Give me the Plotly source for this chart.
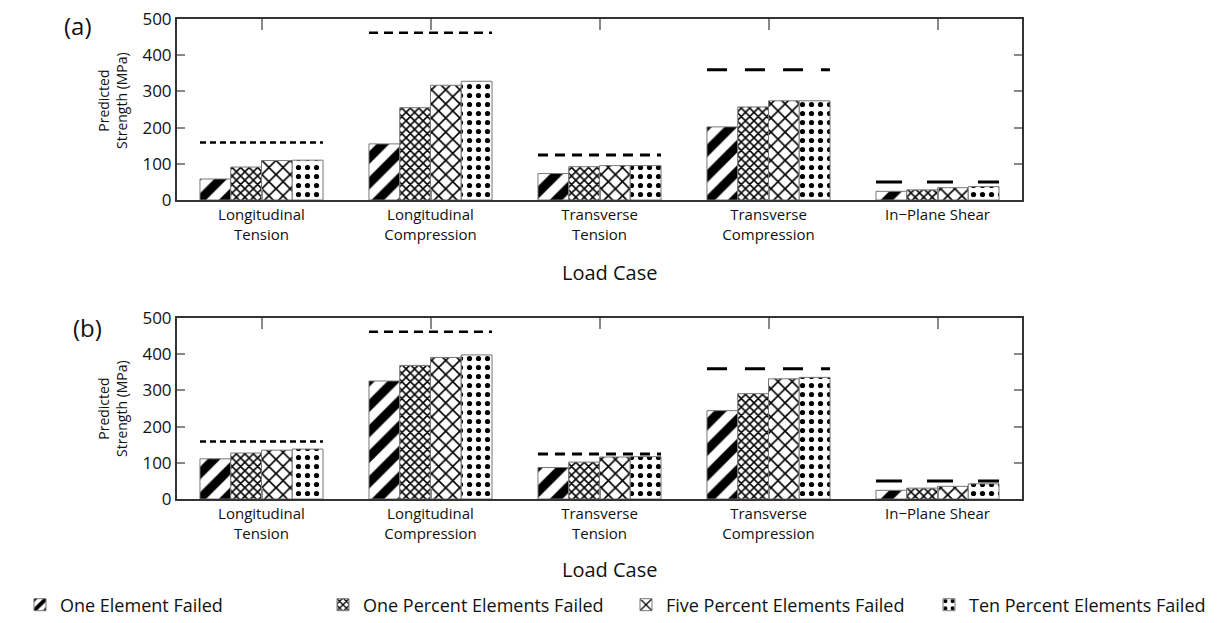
import plotly.graph_objects as go

# ---------------- data ----------------
categories = ["Longitudinal<br>Tension", "Longitudinal<br>Compression",
              "Transverse<br>Tension", "Transverse<br>Compression",
              "In\u2212Plane Shear"]
series_names = ["One Element Failed", "One Percent Elements Failed",
                "Five Percent Elements Failed", "Ten Percent Elements Failed"]

# panel (a)
a_one_element = [58, 155, 73, 202, 24]
a_one_percent = [91, 255, 92, 257, 28]
a_five_percent = [109, 317, 95, 274, 34]
a_ten_percent = [110, 328, 95, 274, 37]

# panel (b)
b_one_element = [111, 326, 87, 244, 24]
b_one_percent = [127, 369, 102, 291, 30]
b_five_percent = [135, 391, 116, 332, 35]
b_ten_percent = [138, 398, 117, 336, 42]

# experimental strength (dashed reference lines)
experimental = [159, 462, 124, 360, 50]

y_ticks = [0, 100, 200, 300, 400, 500]

# ---------------- styles ----------------
W, H = 1229, 623
OFF = 8  # page body margin


def px_x(px):
    return (px - OFF) / W


def px_y(py):
    return 1 - (py - OFF) / H


FONT = "Open Sans"
TXT = "#111111"
patterns = [
    dict(shape="/", size=18, solidity=0.5),
    dict(shape="x", size=6, solidity=0.45),
    dict(shape="x", size=10, solidity=0.3),
    dict(shape=".", size=9, solidity=0.26),
]
dash_styles = ["6px,4px", "9px,6px", "10px,7px", "20px,18px", "26px,25px"]
dash_widths = [2.5, 2.5, 3, 3, 3]
BARGAP = 0.272

fig = go.Figure()
xpos = list(range(len(categories)))

panels = [
    ("x", "y", [a_one_element, a_one_percent, a_five_percent, a_ten_percent], True),
    ("x2", "y2", [b_one_element, b_one_percent, b_five_percent, b_ten_percent], False),
]
for xa, ya, series, show in panels:
    for name, vals, pat in zip(series_names, series, patterns):
        fig.add_trace(go.Bar(
            x=xpos, y=vals, name=name, legendgroup=name, showlegend=show,
            xaxis=xa, yaxis=ya,
            marker=dict(color="white",
                        line=dict(color="#777777", width=1),
                        pattern=dict(fgcolor="black", bgcolor="white",
                                     fillmode="replace", **pat)),
            hoverinfo="skip",
        ))
    half = (1 - BARGAP) / 2
    for i, v in enumerate(experimental):
        fig.add_trace(go.Scatter(
            x=[xpos[i] - half, xpos[i] + half], y=[v, v], mode="lines",
            line=dict(color="black", width=dash_widths[i], dash=dash_styles[i]),
            showlegend=False, xaxis=xa, yaxis=ya, hoverinfo="skip",
        ))

xdom = [px_x(177), px_x(1022)]
ydom_a = [px_y(200), px_y(19)]
ydom_b = [px_y(499), px_y(318)]

xaxis_style = dict(
    range=[-0.5, len(categories) - 0.5], tickvals=xpos, ticktext=categories,
    ticks="inside", ticklen=11, tickwidth=1.5, tickcolor="#888888",
    showline=True, linecolor="#333333", linewidth=2, mirror="ticks",
    showgrid=False, zeroline=False, tickfont=dict(size=15, color=TXT),
    fixedrange=True, automargin=False, ticklabeloverflow="allow",
)
yaxis_style = dict(
    range=[0, 500], tickvals=y_ticks, ticks="inside", ticklen=8, tickwidth=1.5,
    tickcolor="#888888", showline=True, linecolor="#333333", linewidth=2,
    mirror="ticks", showgrid=False, zeroline=False,
    tickfont=dict(size=17, color=TXT), fixedrange=True, automargin=False,
    ticklabeloverflow="allow",
)

fig.update_layout(
    width=W, height=H, autosize=False,
    margin=dict(l=0, r=0, t=0, b=0, pad=0, autoexpand=False),
    paper_bgcolor="white", plot_bgcolor="white",
    font=dict(family=FONT, color=TXT),
    barmode="group", bargap=BARGAP, bargroupgap=0,
    xaxis=dict(domain=xdom, anchor="y", **xaxis_style),
    yaxis=dict(domain=ydom_a, anchor="x", **yaxis_style),
    xaxis2=dict(domain=xdom, anchor="y2", **xaxis_style),
    yaxis2=dict(domain=ydom_b, anchor="x2", **yaxis_style),
    legend=dict(orientation="h", x=px_x(20), xanchor="left",
                y=px_y(605), yanchor="middle",
                entrywidth=258, entrywidthmode="pixels",
                font=dict(size=18, color=TXT),
                bgcolor="rgba(0,0,0,0)", itemclick=False, itemdoubleclick=False),
    showlegend=True,
)

annos = [
    dict(text="(a)", x=px_x(78), y=px_y(25), font=dict(size=24)),
    dict(text="(b)", x=px_x(87), y=px_y(327), font=dict(size=24)),
    dict(text="Load Case", x=px_x(610), y=px_y(272), font=dict(size=20)),
    dict(text="Load Case", x=px_x(610), y=px_y(569), font=dict(size=20)),
    dict(text="Predicted<br>Strength (MPa)", x=px_x(112), y=px_y(100),
         font=dict(size=14), textangle=-90),
    dict(text="Predicted<br>Strength (MPa)", x=px_x(112), y=px_y(408),
         font=dict(size=14), textangle=-90),
]
for a in annos:
    fig.add_annotation(xref="paper", yref="paper", showarrow=False,
                       xanchor="center", yanchor="middle", **a)

fig.write_html("out.html")
